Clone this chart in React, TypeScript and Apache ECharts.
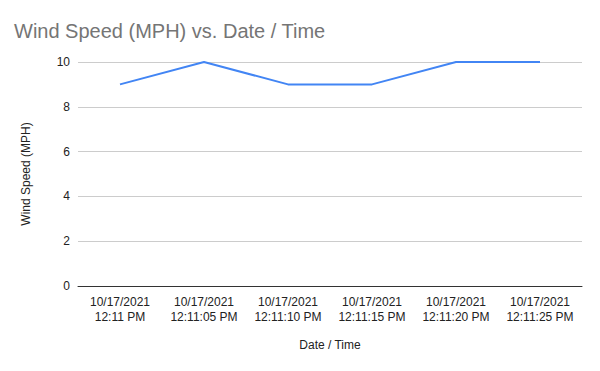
import React, { useEffect, useRef } from "react";
import * as echarts from "echarts";

const categories = [
  "10/17/2021\n12:11 PM",
  "10/17/2021\n12:11:05 PM",
  "10/17/2021\n12:11:10 PM",
  "10/17/2021\n12:11:15 PM",
  "10/17/2021\n12:11:20 PM",
  "10/17/2021\n12:11:25 PM",
];
const windSpeed = [9, 10, 9, 9, 10, 10];

export default function App() {
  const ref = useRef<HTMLDivElement>(null);
  useEffect(() => {
    const chart = echarts.init(ref.current!, null, { renderer: "svg" });
    chart.setOption({
      animation: false,
      backgroundColor: "#ffffff",
      title: {
        text: "Wind Speed (MPH) vs. Date / Time",
        left: 9,
        top: 16,
        textStyle: { fontFamily: "Liberation Sans, Arial", fontSize: 20, fontWeight: "normal", color: "#757575" },
      },
      grid: { left: 78, right: 18, top: 62, bottom: 85 },
      xAxis: {
        type: "category",
        data: categories,
        boundaryGap: true,
        name: "Date / Time",
        nameLocation: "middle",
        nameGap: 53,
        nameTextStyle: { fontFamily: "Liberation Sans, Arial", fontSize: 12, color: "#222222" },
        axisLine: { lineStyle: { color: "#333333", width: 1 } },
        axisTick: { show: false },
        axisLabel: {
          fontFamily: "Liberation Sans, Arial",
          fontSize: 12,
          color: "#222222",
          margin: 8,
          lineHeight: 15,
          interval: 0,
        },
      },
      yAxis: {
        type: "value",
        min: 0,
        max: 10,
        interval: 2,
        name: "Wind Speed (MPH)",
        nameLocation: "middle",
        nameGap: 46,
        nameTextStyle: { fontFamily: "Liberation Sans, Arial", fontSize: 12, color: "#222222" },
        axisLine: { show: false },
        axisTick: { show: false },
        axisLabel: { fontFamily: "Liberation Sans, Arial", fontSize: 12, color: "#222222", margin: 8 },
        splitLine: { lineStyle: { color: "#cccccc", width: 1 } },
      },
      series: [
        {
          type: "line",
          data: windSpeed,
          symbol: "none",
          lineStyle: { color: "#4285f4", width: 2 },
          itemStyle: { color: "#4285f4" },
        },
      ],
    });
    return () => chart.dispose();
  }, []);
  return <div ref={ref} style={{ width: 600, height: 371, position: "absolute", left: 0, top: 0 }} />;
}
